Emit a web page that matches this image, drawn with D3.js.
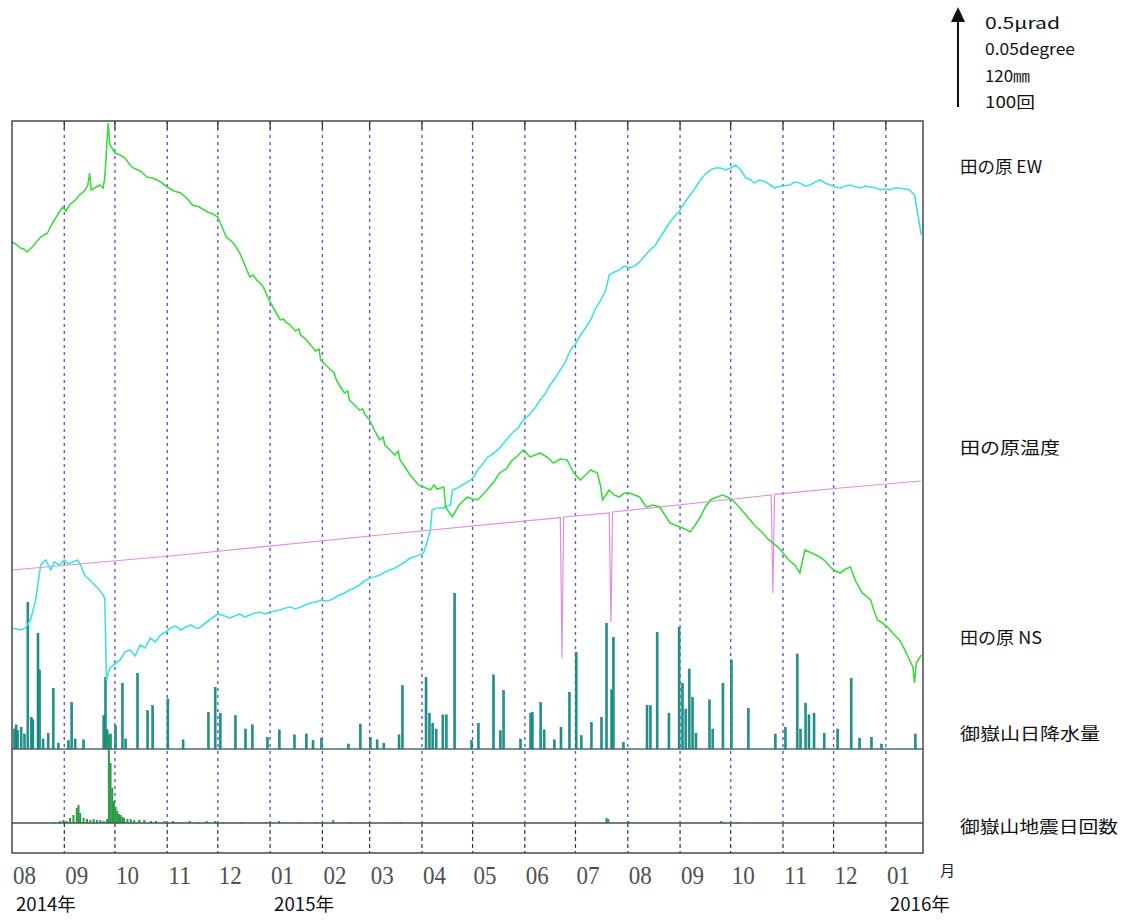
<!DOCTYPE html>
<html>
<head>
<meta charset="utf-8">
<script src="https://cdn.jsdelivr.net/npm/d3@7"></script>
<style>
  html, body { margin: 0; padding: 0; background: #fff; }
  svg { display: block; }
</style>
</head>
<body>
<svg id="chart" width="1126" height="920"></svg>
<script>
// Observation period: daily values counted in days from 2014-08-01.
const startDate = new Date(2014, 7, 1);
const spanDays = 540;

// 田の原 EW tilt (μrad, relative), [day, value]
const ewTilt = [
  [0,0],[5,-0.01],[8,0.0],[11,0.04],[14,0.14],[17,0.315],[20,0.34],[23,0.29],[25,0.33],[28,0.315],[31,0.34],
  [33,0.32],[36,0.33],[39,0.34],[41,0.31],[43,0.265],[46,0.24],[49,0.215],[52,0.19],[55,0.15],[56,-0.26],[58,-0.2],[61,-0.18],
  [64,-0.16],[67,-0.12],[70,-0.11],[73,-0.14],[76,-0.085],[79,-0.1],[82,-0.05],[85,-0.07],[88,-0.035],[91,-0.02],
  [94,0],[97,0.01],[100,-0.01],[103,0.005],[106,0.015],[109,0.0],[111,0],[114,0.02],[117,0.04],[122,0.07],
  [126,0.06],[129,0.05],[132,0.06],[135,0.07],[138,0.055],[141,0.065],[144,0.075],[147,0.08],[150,0.07],[153,0.08],
  [156,0.085],[159,0.09],[162,0.1],[165,0.105],[168,0.095],[171,0.105],[174,0.115],[177,0.125],[180,0.13],[183,0.14],
  [186,0.135],[189,0.14],[192,0.155],[194,0.165],[197,0.175],[200,0.19],[203,0.2],[206,0.215],[209,0.235],[212,0.25],
  [215,0.255],[218,0.265],[221,0.28],[224,0.29],[227,0.3],[230,0.315],[233,0.33],[236,0.35],[240,0.36],[244,0.375],
  [246,0.43],[248,0.49],[249,0.59],[252,0.6],[256,0.6],[258,0.61],[260,0.615],[261,0.69],[264,0.7],[268,0.72],
  [272,0.74],[274,0.76],[276,0.79],[279,0.82],[282,0.855],[285,0.87],[288,0.89],[291,0.92],[293,0.94],[297,0.98],
  [300,1.0],[303,1.04],[306,1.06],[310,1.1],[313,1.14],[316,1.17],[319,1.215],[322,1.25],[325,1.29],[328,1.33],
  [331,1.39],[334,1.42],[337,1.465],[340,1.5],[343,1.54],[346,1.6],[349,1.64],[352,1.69],[354,1.765],[357,1.78],
  [360,1.79],[363,1.81],[366,1.8],[369,1.81],[372,1.83],[375,1.86],[378,1.89],[381,1.91],[384,1.95],[387,1.99],
  [390,2.03],[393,2.06],[396,2.09],[399,2.13],[402,2.165],[405,2.2],[408,2.24],[411,2.27],[414,2.29],[417,2.3],
  [420,2.3],[423,2.29],[426,2.3],[429,2.315],[432,2.29],[435,2.25],[438,2.24],[440,2.225],[443,2.24],[447,2.23],
  [452,2.2],[456,2.21],[461,2.215],[464,2.23],[467,2.225],[470,2.21],[473,2.215],[476,2.23],[479,2.24],[482,2.225],
  [485,2.215],[488,2.205],[491,2.2],[494,2.21],[497,2.215],[500,2.205],[503,2.2],[506,2.21],[509,2.205],[512,2.2],
  [515,2.19],[518,2.195],[520,2.19],[523,2.2],[526,2.2],[529,2.195],[532,2.19],[535,2.165],[537,2.065],[539,1.965]
];

// 田の原 NS tilt (μrad, relative), [day, value]
const nsTilt = [
  [0,0.015],[3,0.0],[5,-0.015],[7,-0.02],[9,-0.035],[12,-0.01],[15,0.02],[17,0.04],[21,0.06],[24,0.11],
  [27,0.15],[30,0.19],[32,0.17],[34,0.2],[37,0.22],[40,0.25],[43,0.27],[45,0.3],[46,0.36],[47,0.275],
  [50,0.29],[52,0.3],[54,0.285],[55,0.335],[57,0.61],[58,0.5],[59,0.49],[61,0.46],[64,0.45],[67,0.435],
  [70,0.4],[72,0.385],[76,0.37],[80,0.34],[83,0.335],[86,0.325],[89,0.31],[92,0.29],[96,0.27],[100,0.26],
  [104,0.23],[107,0.2],[111,0.19],[116,0.165],[119,0.155],[122,0.14],[125,0.08],[127,0.04],[130,0.02],[132,0.0],
  [135,-0.04],[138,-0.1],[141,-0.16],[143,-0.15],[145,-0.175],[147,-0.19],[149,-0.21],[151,-0.25],[153,-0.285],[156,-0.33],[159,-0.375],
  [161,-0.37],[162,-0.385],[165,-0.4],[168,-0.43],[170,-0.42],[171,-0.45],[174,-0.47],[177,-0.5],[180,-0.53],[182,-0.52],[183,-0.575],[186,-0.6],[189,-0.625],
  [191,-0.64],[192,-0.67],[194,-0.7],[197,-0.74],[199,-0.73],[200,-0.775],[203,-0.8],[206,-0.825],[208,-0.82],[209,-0.845],[212,-0.875],[215,-0.93],[218,-0.975],
  [220,-0.96],[221,-1.0],[224,-1.025],[227,-1.05],[229,-1.03],[230,-1.075],[233,-1.11],[236,-1.15],[239,-1.18],[241,-1.2],[244,-1.21],[248,-1.225],
  [250,-1.2],[252,-1.22],[256,-1.21],[257,-1.31],[261,-1.36],[265,-1.3],[270,-1.26],[273,-1.27],[276,-1.275],[280,-1.24],[283,-1.21],
  [286,-1.18],[289,-1.14],[293,-1.12],[296,-1.08],[299,-1.06],[303,-1.025],[305,-1.04],[307,-1.06],[310,-1.05],[313,-1.04],
  [317,-1.06],[321,-1.09],[325,-1.07],[329,-1.075],[333,-1.14],[337,-1.175],[340,-1.15],[343,-1.125],[347,-1.14],[349,-1.21],
  [350,-1.275],[354,-1.225],[357,-1.25],[360,-1.26],[363,-1.24],[366,-1.24],[369,-1.25],[372,-1.26],[376,-1.31],[380,-1.3],
  [384,-1.31],[387,-1.35],[390,-1.39],[393,-1.4],[396,-1.41],[399,-1.42],[402,-1.435],[405,-1.4],[408,-1.36],[411,-1.31],
  [414,-1.275],[418,-1.26],[421,-1.25],[424,-1.26],[427,-1.275],[431,-1.31],[436,-1.36],[440,-1.4],[445,-1.44],[448,-1.47],
  [451,-1.49],[454,-1.51],[457,-1.54],[461,-1.58],[464,-1.6],[467,-1.64],[470,-1.525],[474,-1.54],[479,-1.56],[482,-1.58],
  [485,-1.61],[488,-1.63],[491,-1.64],[494,-1.62],[497,-1.61],[500,-1.68],[504,-1.74],[507,-1.76],[509,-1.775],[511,-1.83],
  [513,-1.875],[516,-1.89],[519,-1.91],[522,-1.94],[526,-1.975],[529,-2.02],[532,-2.075],[534,-2.11],[535,-2.19],[536,-2.09],
  [539,-2.05]
];

// 田の原 temperature (degree, relative), [day, value]
const tempValue = [
  [0,0],[100,0.0075],[218,0.0175],[325,0.0262],[326,-0.044],[327,0.0265],[354,0.0285],[355,-0.026],[356,0.029],
  [450,0.0375],[451,-0.0115],[452,0.0378],[491,0.041],[539,0.0445]
];

// 御嶽山 daily precipitation (mm), [day, value]
const rainDaily = [
  [1,24],[2,29],[3,22],[5,26],[7,18],[9,176],[11,38],[12,35],[15,139],[16,95],
  [18,12],[21,19],[24,73],[27,7],[33,10],[35,56],[37,12],[42,11],[54,40],[55,86],
  [56,23],[58,18],[61,28],[65,79],[67,12],[74,91],[80,46],[83,52],[92,60],[101,11],
  [116,44],[120,74],[123,43],[132,40],[138,24],[142,29],[151,14],[158,23],[167,17],[174,18],
  [178,10],[183,13],[199,6],[206,30],[212,14],[216,11],[220,7],[229,17],[231,76],[245,86],
  [247,43],[249,31],[251,24],[255,41],[257,41],[262,187],[272,10],[276,31],[285,89],[289,22],
  [291,70],[301,12],[307,43],[308,44],[313,56],[315,23],[321,11],[325,26],[330,68],[334,116],
  [337,16],[343,32],[349,38],[352,151],[355,71],[356,134],[362,8],[376,52],[378,52],[382,140],
  [389,43],[395,146],[397,79],[399,48],[401,96],[403,62],[405,19],[413,59],[415,24],[421,79],
  [426,107],[436,49],[452,18],[458,26],[465,114],[467,24],[470,55],[472,41],[475,43],[481,19],
  [489,24],[497,85],[502,13],[509,14],[515,6],[535,18]
];

// 御嶽山 daily earthquake count, [day, count]
const quakeDaily = [
  [25,1],[28,2],[30,3],[32,2],[34,5],[36,8],[38,15],[39,18],[40,10],[42,5],
  [44,4],[46,3],[48,4],[50,3],[52,3],[54,2],[56,4],[57,88],[58,60],[59,35],
  [60,22],[61,16],[62,12],[63,9],[64,8],[65,6],[66,5],[68,4],[70,4],[72,3],
  [75,3],[78,3],[82,2],[85,2],[90,2],[95,2],[100,1],[105,2],[110,1],[115,2],
  [120,2],[125,1],[135,1],[150,1],[158,2],[170,1],[180,1],[190,3],[200,1],[230,1],
  [352,5],[353,4],[365,2],[420,2],[430,1]
];

// Axis and panel text
const monthLabels = ["08","09","10","11","12","01","02","03","04","05","06","07","08","09","10","11","12","01"];
const yearLabels = [["2014年", "2014-08-01"], ["2015年", "2015-01-01"], ["2016年", "2016-01-01"]];
const seriesLabels = ["田の原 EW", "田の原温度", "田の原 NS", "御嶽山日降水量", "御嶽山地震日回数"];
const scaleLabels = ["0.5μrad", "0.05degree", "120㎜", "100回"];

const svg = d3.select("#chart");
const frame = { left: 12, right: 923, top: 121, bottom: 853 };
const rainBase = 749, quakeBase = 823;

const day = d => d3.timeDay.offset(startDate, d);
const x = d3.scaleTime().domain([startDate, day(spanDays)]).range([frame.left, frame.right]);

const yEW = d3.scaleLinear().domain([0, 0.5]).range([628, 528]);
const yNS = d3.scaleLinear().domain([0, 0.5]).range([245, 145]);
const yTemp = d3.scaleLinear().domain([0, 0.05]).range([570, 470]);
const yRain = d3.scaleLinear().domain([0, 120]).range([rainBase, rainBase - 100]);
const yQuake = d3.scaleLinear().domain([0, 100]).range([quakeBase, quakeBase - 100]);

svg.append("clipPath").attr("id", "plot-clip").append("rect")
  .attr("x", frame.left).attr("y", frame.top)
  .attr("width", frame.right - frame.left).attr("height", frame.bottom - frame.top);

// Month grid: dashed blue lines, black ticks at the frame edges
const monthStarts = d3.timeMonth.range(d3.timeMonth.ceil(day(1)), day(spanDays));
const grid = svg.append("g");
grid.selectAll("line.g").data(monthStarts).join("line")
  .attr("x1", d => x(d)).attr("x2", d => x(d))
  .attr("y1", frame.top).attr("y2", quakeBase)
  .attr("stroke", "#5a5ad6").attr("stroke-width", 1.4).attr("stroke-dasharray", "3,4");
grid.selectAll("line.b").data(monthStarts).join("line")
  .attr("x1", d => x(d)).attr("x2", d => x(d))
  .attr("y1", quakeBase).attr("y2", frame.bottom)
  .attr("stroke", "#333").attr("stroke-width", 1.2).attr("stroke-dasharray", "4,3");
grid.selectAll("line.t").data(monthStarts).join("line")
  .attr("x1", d => x(d)).attr("x2", d => x(d))
  .attr("y1", frame.top).attr("y2", frame.top + 8)
  .attr("stroke", "#333").attr("stroke-width", 1.3);

const plot = svg.append("g").attr("clip-path", "url(#plot-clip)");

// Temperature
plot.append("path").datum(tempValue)
  .attr("fill", "none").attr("stroke", "#e08ee0").attr("stroke-width", 1.2)
  .attr("d", d3.line().x(d => x(day(d[0]))).y(d => yTemp(d[1])));

// Precipitation bars
plot.append("g").selectAll("rect").data(rainDaily).join("rect")
  .attr("x", d => x(day(d[0])) - 0.3)
  .attr("width", 2)
  .attr("y", d => yRain(d[1]))
  .attr("height", d => rainBase - yRain(d[1]))
  .attr("fill", "#1c978f").attr("stroke", "#12756e").attr("stroke-width", 0.5);

// Earthquake count bars
plot.append("g").selectAll("rect").data(quakeDaily).join("rect")
  .attr("x", d => x(day(d[0])) - 0.3)
  .attr("width", 2)
  .attr("y", d => yQuake(d[1]))
  .attr("height", d => quakeBase - yQuake(d[1]))
  .attr("fill", "#2e9a44");

// Tilt lines
plot.append("path").datum(ewTilt)
  .attr("fill", "none").attr("stroke", "#3fe3e3").attr("stroke-width", 1.6)
  .attr("d", d3.line().x(d => x(day(d[0]))).y(d => yEW(d[1])));
plot.append("path").datum(nsTilt)
  .attr("fill", "none").attr("stroke", "#3ddc3d").attr("stroke-width", 1.6)
  .attr("d", d3.line().x(d => x(day(d[0]))).y(d => yNS(d[1])));

// Panel baselines
svg.append("line").attr("x1", frame.left).attr("x2", frame.right)
  .attr("y1", rainBase).attr("y2", rainBase).attr("stroke", "#4a6e6c").attr("stroke-width", 1.3);
svg.append("line").attr("x1", frame.left).attr("x2", frame.right)
  .attr("y1", quakeBase).attr("y2", quakeBase).attr("stroke", "#3c5a44").attr("stroke-width", 1.3);

// Frame
svg.append("rect")
  .attr("x", frame.left).attr("y", frame.top)
  .attr("width", frame.right - frame.left).attr("height", frame.bottom - frame.top)
  .attr("fill", "none").attr("stroke", "#4a4a4a").attr("stroke-width", 1.5);

// Month tick labels
const monthTicks = d3.timeMonth.range(startDate, day(spanDays));
svg.append("g").selectAll("text").data(monthTicks).join("text")
  .attr("x", d => x(d) + 1).attr("y", 884)
  .attr("font-family", "Liberation Serif, serif").attr("font-size", 26)
  .attr("fill", "#505050")
  .attr("textLength", 23).attr("lengthAdjust", "spacingAndGlyphs")
  .text((d, i) => monthLabels[i]);

svg.append("text").attr("x", 940).attr("y", 876)
  .attr("font-family", "Noto Sans CJK JP").attr("font-size", 15).attr("fill", "#222")
  .text("月");

svg.append("g").selectAll("text").data(yearLabels).join("text")
  .attr("x", d => x(new Date(d[1] + "T00:00")) + 4).attr("y", 911)
  .attr("font-family", "Noto Sans CJK JP").attr("font-size", 18).attr("fill", "#111")
  .attr("textLength", 60).attr("lengthAdjust", "spacingAndGlyphs")
  .text(d => d[0]);

// Series names on the right
const labelY = [167, 448, 638, 734, 827];
const labelW = [82, 100, 82, 140, 158];
svg.append("g").selectAll("text").data(seriesLabels).join("text")
  .attr("x", 960).attr("y", (d, i) => labelY[i] + 6)
  .attr("font-family", "Noto Sans CJK JP").attr("font-size", 17).attr("fill", "#111")
  .attr("textLength", (d, i) => labelW[i]).attr("lengthAdjust", "spacingAndGlyphs")
  .text(d => d);

// Scale arrow and units
svg.append("line").attr("x1", 958).attr("x2", 958).attr("y1", 20).attr("y2", 107)
  .attr("stroke", "#111").attr("stroke-width", 2);
svg.append("path").attr("d", "M958,7 L951,22 L965,22 Z").attr("fill", "#111");
const scaleY = [23, 49, 76, 102];
const scaleW = [75, 90, 45, 50];
svg.append("g").selectAll("text").data(scaleLabels).join("text")
  .attr("x", 985).attr("y", (d, i) => scaleY[i] + 6)
  .attr("font-family", "Noto Sans CJK JP").attr("font-size", 16).attr("fill", "#111")
  .attr("textLength", (d, i) => scaleW[i]).attr("lengthAdjust", "spacingAndGlyphs")
  .text(d => d);
</script>
</body>
</html>
